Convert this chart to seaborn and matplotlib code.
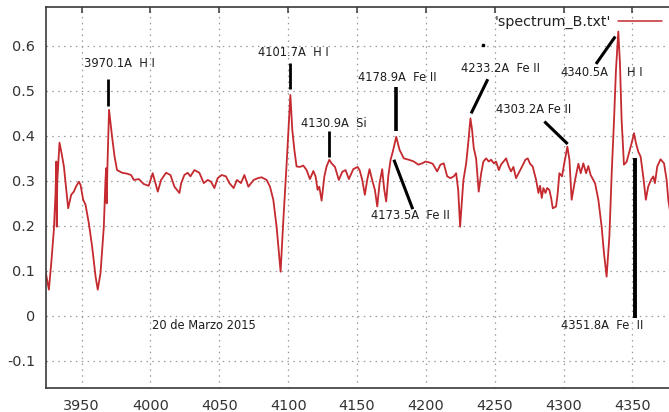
import matplotlib
matplotlib.use("Agg")
import matplotlib.pyplot as plt
import seaborn as sns
import pandas as pd

# Spectrum samples: wavelength (Angstrom) and relative flux
wavelength = [
    3924.0, 3926.2, 3928.0, 3929.8, 3931.0, 3931.6, 3931.9, 3932.3, 3933.9, 3935.5,
    3937.1, 3940.2, 3942.4, 3944.3, 3946.0, 3948.0, 3949.2, 3951.1, 3952.8, 3955.2,
    3957.6, 3960.1, 3961.7, 3963.7, 3966.1, 3967.3, 3967.8, 3968.2, 3968.7, 3969.9,
    3972.1, 3973.9, 3975.7, 3979.4, 3983.0, 3985.9, 3987.9, 3991.5, 3995.1, 3998.7,
    4001.6, 4005.3, 4007.7, 4011.3, 4014.5, 4017.4, 4021.0, 4022.3, 4024.6, 4027.0,
    4029.0, 4031.9, 4035.5, 4038.7, 4041.6, 4044.0, 4046.4, 4048.8, 4051.7, 4054.8,
    4057.3, 4060.4, 4062.8, 4065.7, 4068.2, 4071.1, 4074.9, 4078.0, 4080.7, 4084.4,
    4086.8, 4089.2, 4091.6, 4093.3, 4094.5, 4096.5, 4098.9, 4100.6, 4101.6, 4103.0,
    4104.5, 4106.1, 4108.5, 4111.0, 4113.4, 4115.8, 4118.3, 4119.9, 4121.4, 4122.6,
    4124.3, 4126.3, 4127.9, 4129.9, 4131.5, 4134.0, 4136.8, 4139.3, 4141.7, 4144.1,
    4147.3, 4150.4, 4151.9, 4153.8, 4155.7, 4157.4, 4159.1, 4161.0, 4163.0, 4164.7,
    4166.4, 4168.3, 4169.8, 4171.2, 4172.7, 4174.4, 4176.0, 4178.5, 4180.9, 4184.0,
    4187.6, 4191.3, 4194.5, 4197.4, 4199.8, 4202.5, 4205.0, 4208.2, 4210.6, 4213.0,
    4215.5, 4217.9, 4220.3, 4222.0, 4223.5, 4224.9, 4225.9, 4227.3, 4229.3, 4231.0,
    4232.4, 4233.6, 4234.8, 4236.5, 4238.4, 4240.2, 4241.8, 4243.8, 4245.7, 4247.4,
    4249.4, 4251.0, 4253.0, 4254.6, 4256.5, 4258.3, 4260.2, 4261.9, 4263.6, 4265.5,
    4267.4, 4269.9, 4272.3, 4274.0, 4275.7, 4277.6, 4280.1, 4281.8, 4283.0, 4284.2,
    4285.4, 4286.9, 4288.1, 4289.7, 4291.0, 4292.2, 4294.6, 4295.8, 4297.0, 4298.9,
    4300.6, 4302.8, 4304.3, 4305.9, 4308.4, 4310.8, 4312.5, 4314.4, 4316.4, 4318.0,
    4319.7, 4322.9, 4325.3, 4327.7, 4329.4, 4331.3, 4333.3, 4335.0, 4336.7, 4338.1,
    4339.8, 4341.0, 4342.2, 4343.9, 4345.8, 4347.6, 4349.5, 4351.2, 4352.6, 4354.3,
    4356.0, 4357.9, 4359.8, 4361.5, 4363.5, 4365.2, 4366.4, 4368.1, 4370.5, 4373.0,
    4374.9, 4376.1, 4378.0,
]
flux = [
    0.095, 0.058, 0.120, 0.191, 0.270, 0.343, 0.198, 0.300, 0.385, 0.360,
    0.332, 0.239, 0.269, 0.276, 0.288, 0.298, 0.291, 0.258, 0.247, 0.206,
    0.154, 0.087, 0.058, 0.095, 0.198, 0.302, 0.328, 0.250, 0.330, 0.458,
    0.398, 0.354, 0.324, 0.318, 0.316, 0.313, 0.302, 0.304, 0.293, 0.289,
    0.317, 0.276, 0.302, 0.318, 0.313, 0.287, 0.273, 0.295, 0.313, 0.318,
    0.310, 0.324, 0.318, 0.295, 0.302, 0.298, 0.284, 0.306, 0.313, 0.310,
    0.295, 0.284, 0.302, 0.295, 0.313, 0.287, 0.302, 0.306, 0.308, 0.302,
    0.287, 0.258, 0.198, 0.139, 0.098, 0.213, 0.339, 0.436, 0.491, 0.413,
    0.369, 0.332, 0.331, 0.334, 0.324, 0.304, 0.322, 0.310, 0.280, 0.287,
    0.256, 0.310, 0.332, 0.347, 0.339, 0.331, 0.302, 0.320, 0.324, 0.304,
    0.326, 0.331, 0.324, 0.302, 0.269, 0.302, 0.326, 0.302, 0.280, 0.243,
    0.295, 0.326, 0.280, 0.254, 0.310, 0.347, 0.365, 0.398, 0.369, 0.350,
    0.347, 0.343, 0.336, 0.339, 0.343, 0.341, 0.338, 0.321, 0.336, 0.339,
    0.310, 0.306, 0.310, 0.317, 0.280, 0.198, 0.243, 0.302, 0.339, 0.391,
    0.439, 0.413, 0.373, 0.350, 0.276, 0.317, 0.343, 0.350, 0.343, 0.347,
    0.339, 0.343, 0.324, 0.336, 0.343, 0.350, 0.332, 0.321, 0.331, 0.306,
    0.317, 0.332, 0.347, 0.350, 0.338, 0.332, 0.302, 0.273, 0.289, 0.262,
    0.284, 0.273, 0.284, 0.280, 0.262, 0.239, 0.243, 0.273, 0.317, 0.310,
    0.340, 0.376, 0.347, 0.258, 0.302, 0.338, 0.317, 0.339, 0.317, 0.333,
    0.313, 0.295, 0.258, 0.198, 0.139, 0.087, 0.176, 0.317, 0.436, 0.547,
    0.632, 0.561, 0.436, 0.336, 0.342, 0.362, 0.384, 0.406, 0.384, 0.365,
    0.354, 0.310, 0.258, 0.287, 0.302, 0.310, 0.295, 0.332, 0.348, 0.339,
    0.302, 0.258, 0.220,
]

x_ticks = [3950, 4000, 4050, 4100, 4150, 4200, 4250, 4300, 4350]
y_ticks = [-0.1, 0, 0.1, 0.2, 0.3, 0.4, 0.5, 0.6]
y_tick_labels = ["-0.1", "0", "0.1", "0.2", "0.3", "0.4", "0.5", "0.6"]
series_label = "'spectrum_B.txt'"
date_label = "20 de Marzo 2015"

# Line identifications: text, text anchor, pointer segment, pointer width
line_ids = [
    ("3970.1A  H I",   (3951.6, 0.560), ((3968.8, 0.527), (3968.8, 0.467)), 2.0),
    ("4101.7A  H I",   (4078.1, 0.586), ((4101.6, 0.562), (4101.6, 0.504)), 2.0),
    ("4130.9A  Si",    (4109.5, 0.427), ((4129.4, 0.410), (4129.4, 0.354)), 2.0),
    ("4178.9A  Fe II", (4150.7, 0.529), ((4178.5, 0.508), (4178.5, 0.410)), 2.6),
    ("4173.5A  Fe II", (4160.4, 0.224), ((4176.8, 0.347), (4190.5, 0.237)), 2.2),
    ("4233.2A  Fe II", (4225.7, 0.551), ((4245.0, 0.526), (4232.9, 0.450)), 2.2),
    ("4303.2A Fe II",  (4251.0, 0.458), ((4286.1, 0.432), (4303.0, 0.382)), 2.2),
    ("4340.5A",        (4297.5, 0.540), ((4323.6, 0.560), (4337.6, 0.621)), 2.2),
    ("H I",            (4346.1, 0.540), None, 0),
    ("4351.8A  Fe  II", (4298.2, -0.022), ((4352.2, 0.350), (4352.2, -0.005)), 2.8),
]

sns.set_style("white")
plt.rcParams["font.family"] = ["DejaVu Sans"]
plt.rcParams["axes.unicode_minus"] = False

W, H = 669, 412
fig = plt.figure(figsize=(W / 100, H / 100), dpi=100)
ax = fig.add_axes([46 / W, 1 - 387.7 / H, (672 - 46) / W, (387.7 - 7.3) / H])

df = pd.DataFrame({"wavelength": wavelength, "flux": flux})
sns.lineplot(data=df, x="wavelength", y="flux", ax=ax, color="#c42a30",
             linewidth=1.3, estimator=None, sort=False, label=series_label)

ax.set_xlim(3924.1, 4378.8)
ax.set_ylim(-0.160, 0.686)
ax.set_xticks(x_ticks)
ax.set_xticklabels([str(t) for t in x_ticks])
ax.set_yticks(y_ticks)
ax.set_yticklabels(y_tick_labels)
ax.set_xlabel("")
ax.set_ylabel("")

ax.grid(True, color="#9a9a9a", linestyle=(0, (1.2, 3.5)), linewidth=0.9)
ax.set_axisbelow(True)

for side in ("left", "bottom", "top"):
    ax.spines[side].set_color("#3a3a3a")
    ax.spines[side].set_linewidth(1.2)
ax.spines["right"].set_visible(False)

ax.tick_params(axis="x", direction="in", length=4.5, width=1.1, color="#3a3a3a",
               top=True, labelsize=10.4, labelcolor="#333333", pad=8.4)
ax.tick_params(axis="y", direction="in", length=4.5, width=1.1, color="#3a3a3a",
               labelsize=10.4, labelcolor="#333333", pad=8)

for text, (tx, ty), seg, lw in line_ids:
    ax.text(tx, ty, text, fontsize=8.3, color="#1e1e1e", ha="left", va="center")
    if seg is not None:
        (x0, y0), (x1, y1) = seg
        ax.plot([x0, x1], [y0, y1], color="black", linewidth=lw,
                solid_capstyle="butt")

# small ink dot above the 4233.2A label
ax.plot([4241.8], [0.602], marker="s", markersize=1.8, color="black")

ax.text(4001.4, -0.022, date_label, fontsize=8.3, color="#1e1e1e",
        ha="left", va="center")

leg = ax.legend(loc="center right", bbox_to_anchor=(662 / W, 1 - 22 / H),
                bbox_transform=fig.transFigure, frameon=False, markerfirst=False,
                fontsize=10.3, handlelength=3.05, handletextpad=0.55,
                borderpad=0, borderaxespad=0)
for t in leg.get_texts():
    t.set_color("#222222")
for h in leg.get_lines():
    h.set_linewidth(1.1)

fig.savefig("out.png", dpi=100)
